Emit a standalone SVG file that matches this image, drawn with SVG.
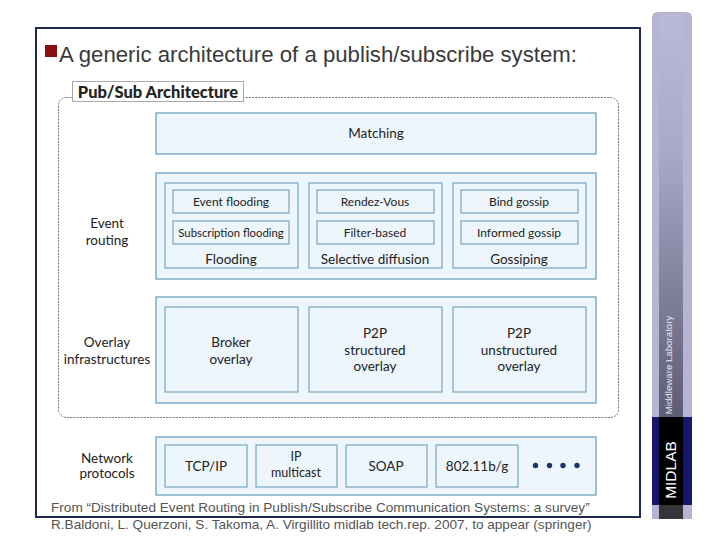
<svg xmlns="http://www.w3.org/2000/svg" width="728" height="546" viewBox="0 0 728 546">
<defs>
<linearGradient id="side" x1="0" y1="0" x2="0" y2="1">
<stop offset="0" stop-color="#b9b9d8"/>
<stop offset="0.35" stop-color="#a8a8c8"/>
<stop offset="1" stop-color="#5c5c74"/>
</linearGradient>
<style>
.box{fill:#edf6fc;stroke:#6f9fbd;stroke-width:1.3}
.ibox{fill:#edf6fc;stroke:#78a6c4;stroke-width:1.2}
.t{font-family:Lato,"Open Sans",sans-serif;fill:#222;text-anchor:middle}
.s{font-size:12px}
.m{font-size:13.5px}
.foot{font-family:"Liberation Sans",Arial,sans-serif;font-size:13.6px;fill:#555}
</style>
</defs>
<rect width="728" height="546" fill="#ffffff"/>
<g id="sidebar">
<path d="M652,18 Q652,12 658,12 L686,12 Q692,12 692,18 L692,519 L652,519 Z" fill="#b5b5d3"/>
<rect x="659" y="14" width="24" height="403" fill="url(#side)"/>
<rect x="652" y="417" width="40" height="88" fill="#16166a"/>
<rect x="659" y="417" width="24" height="88" fill="#000"/>
<rect x="659" y="505" width="24" height="14" fill="#353538"/>
<text transform="translate(672,365) rotate(-90)" font-family="'Liberation Sans',Arial,sans-serif" font-size="9.7" fill="#e8e8f0" text-anchor="middle">Middleware Laboratory</text>
<text transform="translate(676,470) rotate(-90)" font-family="'Liberation Sans',Arial,sans-serif" font-size="15.5" fill="#ffffff" text-anchor="middle">MIDLAB</text>
</g>
<rect x="36" y="28" width="604" height="489" fill="#ffffff" stroke="#1f2a4e" stroke-width="2"/>
<g id="title">
<rect x="45" y="45" width="12" height="12" fill="#8b0f0f"/>
<text x="59" y="62" font-family="'Liberation Sans',Arial,sans-serif" font-size="22.2" fill="#3a3a3a">A generic architecture of a publish/subscribe system:</text>
</g>
<g id="container">
<rect x="58.5" y="97.5" width="560" height="320" rx="8" fill="none" stroke="#777" stroke-width="1" stroke-dasharray="2 1.2"/>
<rect x="72.5" y="81.5" width="171" height="20" fill="#fff" stroke="#aaa" stroke-width="1"/>
<text x="158" y="97.5" class="t" style="font-weight:900;font-size:16.5px" fill="#000">Pub/Sub Architecture</text>
</g>
<g id="matching">
<rect class="box" x="156" y="113" width="440" height="41"/>
<text class="t m" x="376" y="138">Matching</text>
</g>
<g id="event-routing">
<rect class="box" x="156" y="173" width="440" height="106"/>
<text class="t m" x="107" y="228">Event</text>
<text class="t m" x="107" y="245">routing</text>
</g>
<g id="flooding">
<rect class="ibox" x="165" y="183" width="133" height="85"/>
<rect class="ibox" x="173" y="190" width="116" height="23"/>
<rect class="ibox" x="173" y="221" width="116" height="23"/>
<text class="t s" x="231" y="206">Event flooding</text>
<text class="t s" x="231" y="237" style="font-size:11.3px">Subscription flooding</text>
<text class="t m" x="231" y="264">Flooding</text>
</g>
<g id="selective">
<rect class="ibox" x="309" y="183" width="133" height="85"/>
<rect class="ibox" x="317" y="190" width="117" height="23"/>
<rect class="ibox" x="317" y="221" width="117" height="23"/>
<text class="t s" x="375" y="206">Rendez-Vous</text>
<text class="t s" x="375" y="237">Filter-based</text>
<text class="t m" x="375" y="264">Selective diffusion</text>
</g>
<g id="gossiping">
<rect class="ibox" x="453" y="183" width="133" height="85"/>
<rect class="ibox" x="461" y="190" width="117" height="23"/>
<rect class="ibox" x="461" y="221" width="117" height="23"/>
<text class="t s" x="519" y="206">Bind gossip</text>
<text class="t s" x="519" y="237">Informed gossip</text>
<text class="t m" x="519" y="264">Gossiping</text>
</g>
<g id="overlay">
<rect class="box" x="156" y="297" width="440" height="106"/>
<text class="t m" x="107" y="347">Overlay</text>
<text class="t m" x="107" y="364">infrastructures</text>
</g>
<g id="broker">
<rect class="ibox" x="165" y="307" width="133" height="85"/>
<text class="t m" x="231" y="347">Broker</text>
<text class="t m" x="231" y="364">overlay</text>
</g>
<g id="p2p-structured">
<rect class="ibox" x="309" y="307" width="133" height="85"/>
<text class="t m" x="375" y="338">P2P</text>
<text class="t m" x="375" y="355">structured</text>
<text class="t m" x="375" y="371">overlay</text>
</g>
<g id="p2p-unstructured">
<rect class="ibox" x="453" y="307" width="133" height="85"/>
<text class="t m" x="519" y="338">P2P</text>
<text class="t m" x="519" y="355">unstructured</text>
<text class="t m" x="519" y="371">overlay</text>
</g>
<g id="network">
<rect class="box" x="156" y="437" width="440" height="58"/>
<text class="t m" x="107" y="463">Network</text>
<text class="t m" x="107" y="478">protocols</text>
</g>
<g id="tcpip">
<rect class="ibox" x="165" y="445" width="82" height="42"/>
<text class="t m" x="206" y="471">TCP/IP</text>
</g>
<g id="ipmulticast">
<rect class="ibox" x="256" y="445" width="81" height="42"/>
<text class="t" style="font-size:12.5px" x="296" y="461">IP</text>
<text class="t" style="font-size:12.5px" x="296" y="477">multicast</text>
</g>
<g id="soap">
<rect class="ibox" x="346" y="445" width="81" height="42"/>
<text class="t m" x="386" y="471">SOAP</text>
</g>
<g id="wifi">
<rect class="ibox" x="436" y="445" width="82" height="42"/>
<text class="t m" x="477" y="471">802.11b/g</text>
</g>
<g id="more" fill="#1c3566">
<circle cx="535.5" cy="465.5" r="2.7"/>
<circle cx="549.5" cy="465.5" r="2.7"/>
<circle cx="563" cy="465.5" r="2.7"/>
<circle cx="577" cy="465.5" r="2.7"/>
</g>
<g id="connectors"></g>
<g id="footer">
<text class="foot" x="51" y="512">From “Distributed Event Routing in Publish/Subscribe Communication Systems: a survey”</text>
<text class="foot" x="51" y="529">R.Baldoni, L. Querzoni, S. Takoma, A. Virgillito midlab tech.rep. 2007, to appear (springer)</text>
</g>
</svg>
